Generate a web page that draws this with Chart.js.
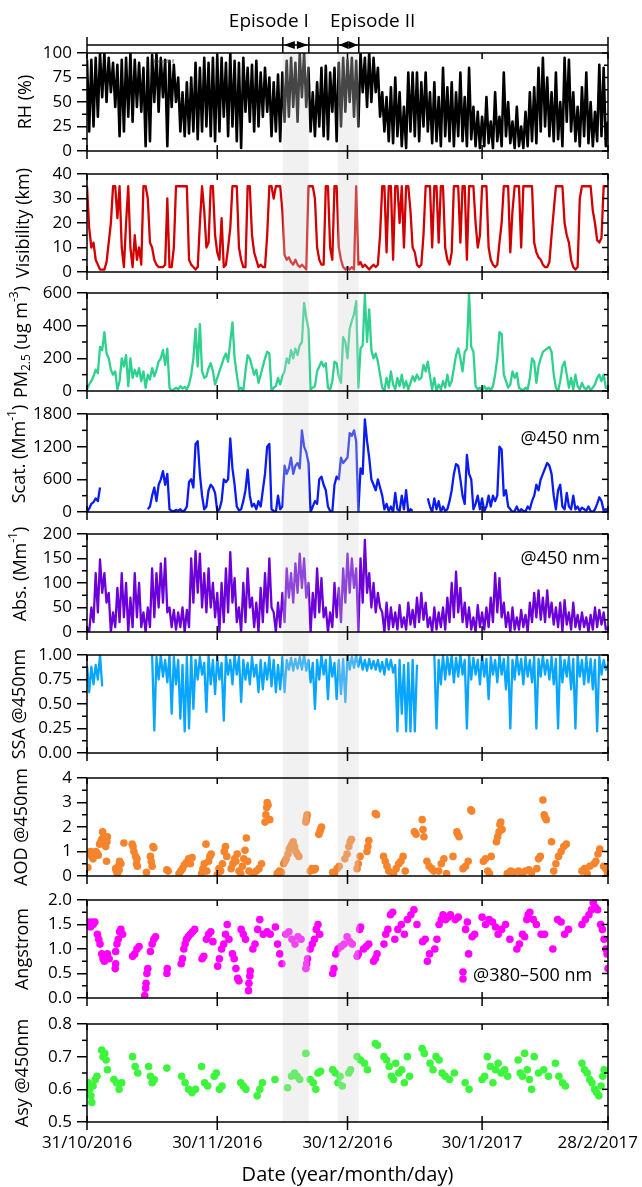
<!DOCTYPE html>
<html lang="en">
<head>
<meta charset="UTF-8">
<title>Aerosol time series, Oct 2016 - Feb 2017</title>
<script src="https://cdn.jsdelivr.net/npm/chart.js@4.4.1/dist/chart.umd.min.js"></script>
<style>
  body { margin: 0; background: #fff; }
  #wrap { position: relative; width: 642px; height: 1187px; overflow: hidden; }
  #wrap canvas { position: absolute; left: 0; }
</style>
</head>
<body>
<div id="wrap"></div>
<script>
// x is counted in days from 31/10/2016
const tickDays = [0, 30, 60, 91, 120];
const tickLabels = ['31/10/2016', '30/11/2016', '30/12/2016', '30/1/2017', '28/2/2017'];
const episodeNames = ['Episode I', 'Episode II'];
const episodeStart = [45.1, 57.8];
const episodeEnd = [51.1, 62.6];

// line series: one value every half day, starting 31/10/2016
const rh = [
  93,20, 93,25, 95,35, 100,55, 100,50, 95,60, 90,45, 88,15, 93,20, 95,35,
  100,30, 93,45, 90,40, 85,5, 95,10, 98,50, 100,40, 95,55, 93,5, 92,45,
  88,50, 75,20, 60,15, 70,18, 75,20, 90,12, 85,20, 95,25, 90,15, 95,10,
  98,20, 95,35, 90,15, 100,25, 92,10, 90,3, 95,40, 85,30, 88,20, 92,25,
  80,35, 85,40, 75,15, 70,20, 78,10, 80,30, 92,35, 95,45, 90,30, 100,55,
  100,45, 85,20, 60,15, 70,25, 85,15, 87,12, 80,40, 85,10, 90,25, 95,40,
  93,50, 95,35, 92,25, 100,60, 95,45, 100,50, 95,60, 85,35, 60,20, 55,10,
  65,8, 75,15, 60,5, 45,3, 80,20, 80,15, 80,10, 70,25, 80,20, 60,8,
  70,10, 55,5, 85,15, 65,10, 70,5, 60,15, 80,10, 55,5, 85,12, 45,5,
  40,3, 35,5, 55,8, 30,3, 60,10, 35,5, 80,15, 50,8, 30,3, 45,5,
  25,3, 40,5, 60,10, 65,8, 85,20, 95,25, 75,15, 60,10, 80,12, 50,5,
  95,30, 93,20, 60,10, 45,5, 65,15, 80,8, 50,5, 40,10, 88,15, 85,5,
  30
];

const visibility = [
  35,18,10,12,5,3,1,1,1,4, 12,20,35,35,22,35,10,2,20,35,
  10,2,15,5,10,3,35,35,30,12, 10,5,3,2,2,2,3,30,2,2,
  10,35,35,35,35,35,35,5,3,2, 1,2,20,35,25,10,12,35,35,15,
  8,5,22,2,3,10,18,35,35,35, 10,5,2,2,35,35,15,8,5,2,
  3,2,2,15,35,35,30,35,35,35, 25,7,5,6,4,3,5,3,2,3,
  2,1,35,35,35,30,10,5,3,3, 35,35,10,5,35,35,10,5,2,1,
  2,1,2,1,35,3,4,2,3,2, 1,2,3,2,3,15,35,35,8,35,
  35,5,35,35,20,35,10,35,35,25, 10,8,3,2,3,15,35,35,35,10,
  35,35,12,35,35,10,5,3,8,35, 35,35,12,35,35,5,35,35,35,20,
  10,15,35,35,35,10,5,3,2,3, 12,20,35,35,35,8,25,35,35,35,
  10,35,35,35,35,35,12,8,6,5, 3,2,2,4,15,25,35,35,35,35,
  20,15,12,5,2,1,2,30,35,35, 35,35,35,25,20,13,12,14,35,35,
  35
];

const pm25 = [
  10,40,60,90,130,110,270,250,360,230, 200,130,100,120,10,60,200,150,220,30,
  200,80,130,90,140,60,120,20,100,70, 140,90,130,180,200,250,160,260,20,0,
  10,20,10,30,15,25,10,40,100,200, 380,150,410,120,80,90,140,170,120,40,
  80,120,160,200,230,180,300,420,200,100, 10,20,0,120,220,200,150,100,130,50,
  100,150,200,240,230,0,20,30,80,40, 90,120,200,170,250,200,260,220,280,300,
  540,450,380,10,20,30,120,150,180,150, 170,20,10,60,180,170,90,50,330,300,
  200,380,430,470,550,20,260,280,590,300, 500,250,200,230,180,100,20,0,80,20,
  120,40,10,80,30,100,20,60,10,50, 90,60,100,70,80,160,120,180,90,10,
  80,0,40,10,60,20,100,30,60,140, 220,260,200,120,240,260,600,270,240,30,
  10,20,5,30,10,20,5,30,100,200, 360,350,100,60,20,40,120,80,110,20,
  10,5,20,10,80,200,180,50,150,200, 240,250,260,270,240,100,20,0,60,150,
  180,100,20,80,10,100,30,10,50,20, 10,30,5,20,40,80,100,60,100,20,
  20
];

const scat = [
  0,60,150,180,250,200,450,null,null,null, null,null,null,null,null,null,null,null,null,null,
  null,null,null,null,null,null,null,null,50,100, 300,450,200,500,600,750,500,700,50,20,
  10,40,20,50,10,30,100,550,600,450, 1250,1300,700,300,50,100,400,500,450,350,
  20,50,200,600,550,600,1350,800,500,100, 30,50,200,400,780,300,100,150,50,200,
  100,400,700,1200,1250,50,20,0,300,50, 100,850,700,800,1000,700,850,900,800,1500,
  1200,1100,900,0,100,200,150,600,650,500, 400,100,20,0,500,650,600,1000,900,950,
  1000,1450,1400,1500,1300,0,800,700,1700,1300, 1000,600,500,400,600,450,300,50,150,20,
  100,0,350,50,20,300,50,400,0,50, 20,null,null,null,null,null,null,250,100,0,
  250,50,200,0,100,20,50,200,400,700, 880,850,600,300,150,1050,700,600,50,150,
  300,50,250,20,100,300,100,300,200,300, 1200,1150,300,400,100,50,0,20,100,0,
  50,20,10,100,50,200,300,500,400,600, 700,800,900,850,700,300,50,400,500,100,
  50,350,100,50,300,50,100,20,80,50, 20,100,20,0,50,150,270,200,30,50,
  20
];

const absorption = [
  10,0, 50,20, 120,40, 148,80, 120,60, 80,0, 40,10, 90,20, 120,30, 100,0,
  70,10, 120,30, 100,10, 40,0, 50,10, 130,30, 120,50, 140,60, 150,40, 50,10,
  45,5, 40,10, 50,0, 45,10, 150,60, 165,80, 160,50, 120,40, 130,50, 100,30,
  80,0, 100,20, 130,40, 163,60, 110,20, 50,0, 100,20, 130,50, 70,10, 60,0,
  90,20, 120,40, 150,50, 40,0, 60,10, 80,20, 130,70, 120,60, 140,80, 160,90,
  150,70, 100,0, 80,30, 130,40, 110,30, 50,0, 40,10, 100,30, 90,20, 130,60,
  160,80, 150,90, 130,0, 150,60, 188,80, 120,50, 100,40, 80,50, 40,0, 60,5,
  50,10, 40,5, 55,10, 30,5, 60,15, 45,10, 70,20, 80,25, 60,10, 30,0,
  50,5, 40,10, 50,5, 70,20, 100,30, 123,40, 90,20, 60,10, 50,5, 30,0,
  55,10, 40,5, 50,10, 70,20, 120,40, 110,30, 60,10, 40,0, 50,5, 30,5,
  45,10, 35,0, 60,20, 80,30, 85,25, 70,20, 85,30, 60,15, 50,10, 60,0,
  65,15, 40,5, 60,10, 35,5, 40,10, 30,0, 35,5, 50,10, 45,15, 40,5,
  10
];

const ssa = [
  0.90,0.62, 0.88,0.70, 0.90,0.75, 1.00,0.68,
  null,null, null,null, null,null, null,null, null,null, null,null,
  null,null, null,null, null,null, null,null, null,null,
  1.00,0.23, 0.98,0.75, 1.00,0.78, 0.95,0.72, 1.00,0.40, 0.98,0.70, 0.95,0.35, 0.90,0.22, 0.98,0.25, 1.00,0.45,
  0.95,0.75, 0.98,0.80, 0.92,0.42, 1.00,0.70, 0.95,0.60, 0.98,0.75, 0.92,0.33, 1.00,0.80, 0.95,0.70, 1.00,0.80,
  0.98,0.52, 0.95,0.75, 0.92,0.70, 0.98,0.78, 0.90,0.62, 0.95,0.65, 0.92,0.75, 0.98,0.68, 0.95,0.62, 0.90,0.65,
  0.98,0.62, 0.95,0.85, 0.97,0.84, 0.96,0.86, 0.98,0.85, 1.00,0.84, 0.95,0.72, 0.92,0.45, 0.95,0.75, 1.00,0.80,
  0.95,0.55, 0.98,0.78, 0.92,0.55, 0.95,0.60, 0.96,0.52, 1.00,0.85, 0.98,0.87, 1.00,0.88, 0.98,0.85, 0.95,0.84,
  0.96,0.86, 0.94,0.85, 0.95,0.83, 0.93,0.80, 0.96,0.85, 0.95,0.82, 0.90,0.22, 0.95,0.40, 0.90,0.22, 0.92,0.22,
  0.95,0.22, 0.90,null, null,null, null,null, null,null,
  1.00,0.25, 0.95,0.70, 1.00,0.75, 0.98,0.80, 1.00,0.72,
  0.97,0.78, 1.00,0.80, 0.95,0.25, 1.00,0.75, 0.97,0.80, 0.95,0.70, 1.00,0.78, 0.96,0.55, 0.98,0.80, 0.95,0.72,
  1.00,0.80, 0.96,0.65, 0.98,0.25, 0.95,0.75, 1.00,0.80, 0.96,0.70, 0.98,0.78, 0.95,0.72, 0.98,0.25, 0.96,0.78,
  1.00,0.80, 0.95,0.75, 0.98,0.70, 0.96,0.25, 1.00,0.72, 0.95,0.78, 0.98,0.65, 0.96,0.25, 1.00,0.78, 0.95,0.70,
  0.98,0.72, 0.96,0.65, 0.95,0.22, 0.98,0.80, 0.95,0.85,
  0.90
];

// point series: [day, value]
const aod = [
  [0.2,0.35],[0.5,0.9],[0.8,1.0],[1.1,0.8],[1.4,0.7],[1.7,0.9],[2.0,1.0],[2.3,0.95],[2.6,0.85],
  [2.9,1.3],[3.2,1.4],[3.4,1.5],[3.6,1.8],[3.9,1.6],[4.1,1.5],[4.3,1.2],[4.5,0.6],[4.7,1.6],[4.6,1.4],
  [6.6,0.3],[6.8,0.2],[7.0,0.1],[7.2,0.4],[7.5,0.6],[7.8,0.5],[7.4,0.25],[8.5,1.35],
  [10.4,1.3],[10.6,1.2],[10.8,1.0],[11.2,0.8],[11.4,0.5],[11.6,0.4],[11.5,0.7],[13.7,0.15],
  [14.6,0.8],[14.8,0.6],[15.0,0.4],[15.2,1.2],[15.4,1.15],[18.4,0.25],[18.7,0.2],
  [21.2,0.1],[21.6,0.2],[22.0,0.3],[22.4,0.45],[22.9,0.55],[23.4,0.7],[23.8,0.5],[24.2,0.75],
  [26.4,0.1],[26.7,0.3],[27.0,0.5],[27.4,1.3],[27.6,0.2],[28.0,0.6],[28.3,0.8],[28.6,0.9],
  [30.0,0.05],[30.4,0.3],[30.8,0.2],[31.2,0.5],[31.6,1.0],[31.9,1.2],[32.2,0.8],
  [33.2,0.3],[33.6,0.5],[34.0,0.7],[34.3,0.6],[34.6,0.9],[35.0,0.2],
  [35.4,0.1],[35.8,0.4],[36.1,0.7],[36.4,1.05],[36.7,1.55],[37.0,0.6],[37.3,0.2],
  [38.3,0.1],[39.0,0.2],[39.6,0.3],[40.2,0.5],
  [41.0,2.2],[41.2,2.5],[41.4,2.8],[41.5,3.0],[41.7,2.9],[42.1,2.3],
  [43.8,0.1],[44.3,0.2],[44.8,0.15],
  [45.3,0.5],[45.6,0.6],[45.9,0.7],[46.3,0.9],[46.6,1.1],[46.9,1.2],[47.2,1.3],[47.5,1.4],[47.8,1.2],[48.1,1.0],[48.4,0.9],[48.8,0.8],
  [50.4,2.2],[50.5,2.3],[50.6,2.4],[50.7,2.5],
  [51.4,0.2],[51.8,0.3],[52.3,0.25],[52.6,0.3],
  [53.4,1.7],[53.6,1.8],[53.8,1.9],[54.0,2.0],
  [56.6,0.15],[57.0,0.1],[57.6,0.3],[58.1,0.4],
  [59.4,0.7],[59.9,0.9],[60.3,1.2],[60.6,1.4],[60.9,1.5],
  [62.2,0.3],[62.5,0.5],[62.9,0.8],[64.5,1.0],[64.7,1.2],[64.9,1.45],
  [66.4,2.55],[66.7,2.5],
  [68.3,0.8],[68.7,0.6],[69.1,0.4],[69.5,0.2],
  [70.6,0.1],[71.2,0.3],[71.8,0.5],[72.3,0.6],[72.8,0.8],[73.3,0.2],
  [75.4,1.8],[75.8,1.7],[77.2,2.3],[77.4,1.9],[77.6,1.6],
  [78.3,0.6],[78.8,0.4],[79.4,0.3],[79.9,0.2],
  [81.0,0.2],[81.6,0.5],[82.2,0.7],[82.8,0.1],[84.3,0.8],
  [85.2,1.8],[85.4,1.7],[85.7,1.6],[86.6,0.3],[87.2,0.4],[87.8,0.6],
  [88.4,2.7],[88.6,2.65],
  [91.3,0.6],[91.8,0.7],[92.3,0.2],[92.7,0.1],[93.1,0.8],
  [94.3,1.4],[94.6,1.6],[94.9,1.8],[95.1,2.1],[95.3,2.2],[95.6,1.9],
  [96.8,0.1],[97.6,0.2],[98.4,0.15],
  [99.4,0.2],[100.2,0.1],[101.0,0.2],[101.8,0.25],[102.4,0.15],
  [103.6,0.3],[104.0,0.7],[104.4,0.8],
  [105.0,3.1],[105.3,2.5],[105.5,2.4],[105.8,2.3],
  [107.0,1.4],[107.5,0.2],[108.0,0.5],[108.6,0.8],[109.2,1.0],[109.8,1.2],[110.4,1.3],
  [114.0,0.2],[114.6,0.3],[115.2,0.1],[115.8,0.4],
  [116.8,0.5],[117.2,0.6],[117.7,0.9],[118.1,1.1],
  [119.0,0.4],[119.5,0.3],[119.9,0.1]
];

const angstrom = [
  [0.2,1.55],[0.5,1.5],[0.8,1.45],[1.1,1.55],[1.4,1.5],[1.8,1.55],
  [2.4,1.3],[2.7,1.2],[3.0,1.1],
  [3.4,0.9],[3.7,0.8],[4.0,0.75],[4.3,0.85],[4.7,0.9],[5.1,0.8],
  [6.5,0.6],[6.6,0.7],[6.6,0.95],
  [6.9,1.1],[7.2,1.2],[7.5,1.35],[7.8,1.4],[8.2,1.3],
  [10.5,0.85],[11.0,0.9],[11.5,1.0],[12.0,1.05],
  [13.3,0.05],[13.5,0.2],[13.6,0.3],[13.8,0.5],[14.0,0.6],
  [14.6,0.95],[15.0,1.1],[15.4,1.2],[15.8,1.25],
  [18.4,0.5],[18.5,0.6],
  [21.7,0.7],[22.0,0.8],[22.3,1.0],[22.6,1.1],[22.9,1.2],
  [23.3,1.25],[23.8,1.3],[24.3,1.35],[24.8,1.4],
  [26.5,0.8],[26.9,0.85],
  [27.5,1.2],[28.0,1.3],[28.5,1.35],[29.0,1.15],
  [30.1,0.65],[30.5,0.8],[31.0,1.0],[31.5,1.1],[31.9,1.3],[32.3,1.5],[32.7,1.2],
  [33.5,0.9],[33.9,0.8],[34.3,0.6],[34.7,0.4],[35.0,0.35],
  [35.5,1.4],[36.0,1.3],[36.5,1.2],
  [37.2,0.15],[37.3,0.3],[37.5,0.45],[37.6,0.55],
  [38.2,1.0],[38.7,1.1],[39.3,1.4],[39.8,1.6],
  [40.6,1.3],[41.5,1.35],[42.2,1.3],
  [43.4,1.45],[43.9,1.1],[44.4,0.9],[44.9,0.7],
  [45.8,1.3],[46.5,1.35],[47.2,1.2],[47.9,1.1],[48.6,1.25],[49.3,1.2],
  [50.4,0.6],[50.6,0.7],[50.8,0.8],
  [51.4,1.0],[51.9,1.1],[52.4,1.2],[52.8,1.4],[53.2,1.5],[53.6,1.3],
  [56.6,0.5],[56.9,0.6],[57.3,0.9],[57.8,1.0],
  [58.5,1.05],[59.2,1.1],[59.9,1.25],[60.5,1.15],[61.1,1.1],
  [62.2,0.85],[62.5,0.9],[62.8,1.4],[63.0,1.45],
  [63.7,1.0],[64.3,1.05],[64.9,1.1],
  [66.0,0.75],[66.4,0.8],[66.8,0.9],
  [68.4,1.1],[68.8,1.3],[69.3,1.4],[69.9,1.7],[70.4,1.75],
  [70.9,1.2],[71.6,1.4],[72.4,1.5],[73.1,1.3],[73.8,1.6],
  [74.6,1.7],[75.3,1.8],[76.0,1.5],
  [77.3,1.15],[77.9,1.2],[78.4,0.75],[78.9,0.9],
  [80.1,1.0],[80.6,1.2],[81.1,1.5],[81.6,1.6],[82.0,1.7],
  [82.6,1.6],[83.2,1.65],[83.7,1.7],
  [84.8,1.6],[85.5,1.65],
  [87.2,1.4],[87.6,1.55],[87.9,0.9],
  [88.7,1.25],[89.3,1.3],
  [91.0,1.65],[91.8,1.5],[92.6,1.6],[93.4,1.55],[94.1,1.45],
  [94.7,1.3],[95.5,1.4],[96.4,1.5],[97.4,1.2],
  [99.0,1.0],[99.6,1.1],[100.3,1.3],[100.8,1.25],[101.3,1.6],[101.6,1.7],
  [102.0,1.75],[102.8,1.6],[103.5,1.5],
  [104.6,1.3],[105.4,1.3],[107.3,1.0],
  [108.4,1.6],[109.2,1.55],[110.0,1.3],[110.9,1.4],
  [114.0,1.5],[114.8,1.6],[115.6,1.7],[116.2,1.8],
  [116.6,1.95],[117.1,1.85],[117.6,1.8],
  [118.3,1.5],[118.7,1.4],[119.1,1.2],[119.5,1.0],[119.8,0.9],[120,0.6]
];

const asymmetry = [
  [0.3,0.62],[0.6,0.60],[0.9,0.58],[1.1,0.56],[1.4,0.61],[1.9,0.63],[2.3,0.64],
  [3.4,0.72],[3.7,0.70],[4.1,0.71],[4.4,0.69],[4.7,0.66],
  [6.2,0.63],[6.8,0.62],[7.4,0.60],[8.0,0.62],
  [10.5,0.70],[11.1,0.67],[11.7,0.65],
  [14.2,0.67],[14.6,0.64],[15.0,0.62],[15.5,0.63],
  [18.4,0.665],
  [21.8,0.64],[22.6,0.62],[23.4,0.60],[24.2,0.59],[25.0,0.60],
  [26.4,0.67],[27.1,0.62],[27.8,0.61],
  [29.3,0.64],[29.8,0.65],[30.5,0.60],[31.1,0.61],
  [35.4,0.62],[36.0,0.61],[36.6,0.60],
  [39.2,0.58],[39.8,0.60],[40.4,0.62],
  [43.3,0.63],
  [46.2,0.605],[47.1,0.64],[47.8,0.65],[48.4,0.64],[49.0,0.63],
  [50.4,0.71],
  [51.4,0.63],[52.1,0.62],[52.7,0.60],[53.2,0.65],[53.8,0.655],
  [56.6,0.66],[57.2,0.65],[57.8,0.62],[58.3,0.64],[58.8,0.61],
  [60.3,0.65],[60.7,0.66],
  [62.2,0.70],[63.0,0.69],[63.9,0.68],[64.6,0.66],
  [66.4,0.74],[66.9,0.735],
  [68.4,0.70],[69.0,0.69],[69.6,0.67],[70.1,0.64],[70.6,0.63],
  [71.1,0.68],[71.8,0.65],[72.5,0.66],[73.1,0.62],[73.8,0.70],[74.3,0.64],
  [77.2,0.725],[77.7,0.71],
  [79.0,0.68],[79.7,0.66],[80.4,0.70],[81.1,0.69],[81.8,0.65],
  [82.5,0.64],[83.5,0.63],[84.6,0.65],
  [87.1,0.62],[88.0,0.60],
  [91.0,0.63],[91.6,0.64],[92.2,0.70],[92.9,0.67],[93.5,0.62],[94.1,0.66],
  [94.7,0.68],[95.4,0.65],[96.2,0.66],[96.9,0.64],
  [99.3,0.69],[99.8,0.65],[100.3,0.64],[100.8,0.71],[101.4,0.66],[101.9,0.63],[102.4,0.60],
  [103.0,0.70],[104.0,0.65],[105.2,0.66],[106.3,0.64],
  [107.9,0.68],[108.7,0.64],[109.5,0.62],[110.2,0.61],
  [114.0,0.68],[114.6,0.66],[115.2,0.65],[115.8,0.63],
  [116.3,0.62],[116.9,0.60],[117.4,0.59],[117.9,0.58],[118.4,0.61],[118.8,0.64],[119.1,0.66]
];

// ---- layout ----
const W = 642, H = 1187, LEFT = 87, RIGHT = 608, PANEL_H = 98;
const panelTops = [53, 174, 293, 414, 534, 655, 778, 900, 1024];
const FONT = "'Open Sans', sans-serif";
Chart.defaults.font.family = FONT;
Chart.defaults.color = '#000';

const halfDaily = arr => arr.map((v, i) => ({ x: i * 0.5, y: v }));
const pairs = arr => arr.map(p => ({ x: p[0], y: p[1] }));

const panels = [
  { data: halfDaily(rh), color: '#000000', min: 0, max: 100, step: 25, dec: 0, width: 2.6,
    title: [['RH (%)', 0]], titleX: 26, titleDy: 0 },
  { data: halfDaily(visibility), color: '#d20000', min: 0, max: 40, step: 10, dec: 0,
    title: [['Visibility (km)', 0]], titleX: 24, titleDy: 0 },
  { data: halfDaily(pm25), color: '#2ed18e', min: 0, max: 600, step: 200, dec: 0,
    title: [['PM', 0], ['2.5', -1], [' (ug m', 0], ['-3', 1], [')', 0]], titleX: 22, titleDy: 0 },
  { data: halfDaily(scat), color: '#0a1cf2', min: 0, max: 1800, step: 600, dec: 0,
    title: [['Scat. (Mm', 0], ['-1', 1], [')', 0]], titleX: 20, titleDy: -9, note: '@450 nm' },
  { data: halfDaily(absorption), color: '#6b00da', min: 0, max: 200, step: 50, dec: 0,
    title: [['Abs. (Mm', 0], ['-1', 1], [')', 0]], titleX: 21, titleDy: -9, note: '@450 nm' },
  { data: halfDaily(ssa), color: '#08a6ff', min: 0, max: 1, step: 0.25, dec: 2,
    title: [['SSA @450nm', 0]], titleX: 20, titleDy: 0 },
  { data: pairs(aod), color: '#f5842c', min: 0, max: 4, step: 1, dec: 0, points: true,
    title: [['AOD @450nm', 0]], titleX: 22, titleDy: 0 },
  { data: pairs(angstrom), color: '#ff00ff', min: 0, max: 2, step: 0.5, dec: 1, points: true,
    title: [['Angstrom', 0]], titleX: 23, titleDy: 0, legend: '@380\u2013500 nm' },
  { data: pairs(asymmetry), color: '#3cf53c', min: 0.5, max: 0.8, step: 0.1, dec: 1, points: true,
    title: [['Asy @450nm', 0]], titleX: 23, titleDy: 0 }
];

function drawTitle(ctx, parts, cx, cy) {
  const big = '18px ' + FONT, small = '12px ' + FONT;
  ctx.save();
  let total = 0;
  parts.forEach(([t, s]) => { ctx.font = s ? small : big; total += ctx.measureText(t).width; });
  ctx.translate(cx, cy);
  ctx.rotate(-Math.PI / 2);
  ctx.textBaseline = 'middle';
  ctx.textAlign = 'left';
  ctx.fillStyle = '#000';
  let x = -total / 2;
  parts.forEach(([t, s]) => {
    ctx.font = s ? small : big;
    const dy = s === -1 ? 5 : (s === 1 ? -7 : 0);
    ctx.fillText(t, x, dy);
    x += ctx.measureText(t).width;
  });
  ctx.restore();
}

function line(ctx, x0, y0, x1, y1) {
  ctx.beginPath(); ctx.moveTo(x0, y0); ctx.lineTo(x1, y1); ctx.stroke();
}

function makeDeco(p, i, bandTo, isLast) {
  return {
    id: 'deco' + i,
    afterDatasetsDraw(chart) {
      const { ctx, chartArea: a, scales: { x, y } } = chart;
      ctx.save();
      // episode shading, running down into the gap under the panel
      ctx.fillStyle = 'rgba(214,214,214,0.33)';
      const to = isLast ? a.bottom : bandTo;
      for (let k = 0; k < episodeStart.length; k++) {
        const x0 = x.getPixelForValue(episodeStart[k]);
        const x1 = x.getPixelForValue(episodeEnd[k]);
        ctx.fillRect(x0, a.top, x1 - x0, to - a.top);
      }
      // frame
      ctx.strokeStyle = '#000';
      ctx.lineWidth = 1.5;
      ctx.strokeRect(a.left, a.top, a.right - a.left, a.bottom - a.top);
      // y ticks: minor outside on the left, all inside on the right
      const minor = p.step / 2;
      const n = Math.round((p.max - p.min) / minor);
      for (let k = 0; k <= n; k++) {
        const py = y.getPixelForValue(p.min + k * minor);
        const major = k % 2 === 0;
        if (!major) line(ctx, a.left - 5, py, a.left, py);
        line(ctx, a.right - (major ? 6 : 4), py, a.right, py);
      }
      // x ticks
      tickDays.forEach(d => {
        const px = x.getPixelForValue(d);
        line(ctx, px, a.top, px, a.top + 6);
        line(ctx, px, a.bottom - 6, px, a.bottom + 8);
      });
      ctx.restore();
    },
    afterDraw(chart) {
      const { ctx, chartArea: a, scales: { x } } = chart;
      ctx.save();
      drawTitle(ctx, p.title, p.titleX, (a.top + a.bottom) / 2 + p.titleDy);
      ctx.fillStyle = '#000';
      if (p.note) {
        ctx.font = '18px ' + FONT;
        ctx.textAlign = 'right';
        ctx.textBaseline = 'middle';
        ctx.fillText(p.note, a.right - 8, a.top + 25);
      }
      if (p.legend) {
        ctx.fillStyle = p.color;
        ctx.beginPath(); ctx.arc(463, a.top + 72, 3.8, 0, Math.PI * 2); ctx.fill();
        ctx.beginPath(); ctx.arc(463, a.top + 79, 3.8, 0, Math.PI * 2); ctx.fill();
        ctx.fillStyle = '#000';
        ctx.font = '18px ' + FONT;
        ctx.textAlign = 'left';
        ctx.textBaseline = 'middle';
        ctx.fillText(p.legend, 473, a.top + 76);
      }
      if (i === 0) {
        // tiny leftover label inside the RH panel
        ctx.font = '4.5px ' + FONT;
        ctx.fillStyle = '#444';
        ctx.textAlign = 'left';
        ctx.textBaseline = 'middle';
        ctx.fillText('Episode II', 154, a.top + 9);
        // episode markers above the first panel
        const ly = a.top - 8;
        ctx.strokeStyle = '#000';
        ctx.fillStyle = '#000';
        ctx.lineWidth = 1.5;
        line(ctx, a.left, ly, a.right, ly);
        line(ctx, a.left, ly - 8, a.left, a.top);
        line(ctx, a.right, ly - 8, a.right, a.top);
        ctx.font = '19px ' + FONT;
        ctx.textBaseline = 'middle';
        for (let k = 0; k < episodeStart.length; k++) {
          const x0 = x.getPixelForValue(episodeStart[k]);
          const x1 = x.getPixelForValue(episodeEnd[k]);
          line(ctx, x0, ly - 8, x0, a.top);
          line(ctx, x1, ly - 8, x1, a.top);
          const head = Math.min(12, (x1 - x0) / 2);
          ctx.beginPath();
          ctx.moveTo(x0 + 1, ly); ctx.lineTo(x0 + head, ly - 4); ctx.lineTo(x0 + head, ly + 4); ctx.closePath();
          ctx.fill();
          ctx.beginPath();
          ctx.moveTo(x1 - 1, ly); ctx.lineTo(x1 - head, ly - 4); ctx.lineTo(x1 - head, ly + 4); ctx.closePath();
          ctx.fill();
          if (k === 0) { ctx.textAlign = 'right'; ctx.fillText(episodeNames[k], x1, 22); }
          else { ctx.textAlign = 'left'; ctx.fillText(episodeNames[k], x0 - 8, 22); }
        }
      }
      if (isLast) {
        ctx.font = '17px ' + FONT;
        ctx.fillStyle = '#000';
        ctx.textAlign = 'center';
        ctx.textBaseline = 'middle';
        tickDays.forEach((d, k) => {
          const w = ctx.measureText(tickLabels[k]).width;
          let px = x.getPixelForValue(d);
          px = Math.min(px, chart.width - 4 - w / 2);
          ctx.fillText(tickLabels[k], px, a.bottom + 21);
        });
      }
      ctx.restore();
    }
  };
}

const wrap = document.getElementById('wrap');
panels.forEach((p, i) => {
  const isLast = i === panels.length - 1;
  const top = panelTops[i];
  const cTop = i === 0 ? 0 : top - 30;
  const cBottom = isLast ? H : top + PANEL_H + 30;
  const canvas = document.createElement('canvas');
  canvas.width = W;
  canvas.height = cBottom - cTop;
  canvas.style.top = cTop + 'px';
  canvas.style.width = W + 'px';
  canvas.style.height = (cBottom - cTop) + 'px';
  wrap.appendChild(canvas);
  const bandTo = isLast ? null : panelTops[i + 1] - cTop;

  new Chart(canvas, {
    type: 'line',
    data: {
      datasets: [{
        data: p.data,
        borderColor: p.color,
        backgroundColor: p.color,
        borderWidth: p.width || 2.3,
        borderJoinStyle: 'round',
        showLine: !p.points,
        pointRadius: p.points ? 3.8 : 0,
        pointBorderWidth: 0,
        spanGaps: false
      }]
    },
    options: {
      responsive: false,
      animation: false,
      devicePixelRatio: 1,
      layout: { padding: { top: top - cTop, bottom: isLast ? 0 : cBottom - top - PANEL_H, left: 0, right: W - RIGHT } },
      plugins: { legend: { display: false }, tooltip: { enabled: false } },
      scales: {
        x: {
          type: 'linear', min: 0, max: 120,
          display: isLast,
          grid: { display: false },
          border: { display: false },
          ticks: { display: false },
          title: { display: isLast, text: 'Date (year/month/day)', font: { size: 20 }, color: '#000', padding: { top: 0, bottom: 0 } },
          afterFit: s => { if (isLast) s.height = 65; }
        },
        y: {
          min: p.min, max: p.max,
          afterFit: s => { s.width = LEFT; },
          border: { display: false },
          grid: { drawOnChartArea: false, color: '#000', lineWidth: 1.5, tickLength: 10 },
          ticks: { stepSize: p.step, font: { size: 17 }, color: '#000', padding: 5,
                   callback: v => Number(v).toFixed(p.dec) }
        }
      }
    },
    plugins: [makeDeco(p, i, bandTo, isLast)]
  });
});
</script>
</body>
</html>
